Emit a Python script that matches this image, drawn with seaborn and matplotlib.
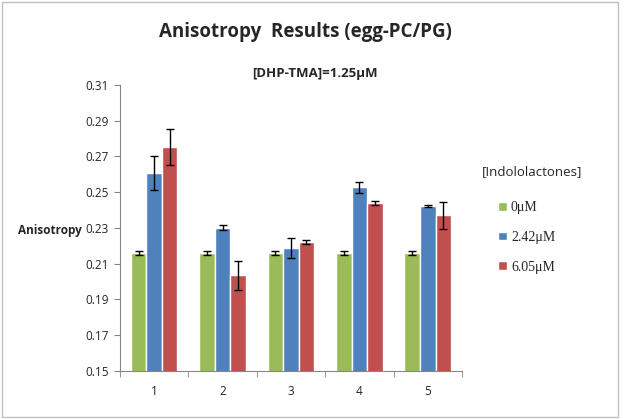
import numpy as np
import pandas as pd
import seaborn as sns
import matplotlib.pyplot as plt
from matplotlib.patches import Rectangle

# data
groups = ["1", "2", "3", "4", "5"]
concs = ["0\u03bcM", "2.42\u03bcM", "6.05\u03bcM"]
vals_0 = [0.2161, 0.2161, 0.2161, 0.2161, 0.2161]
vals_242 = [0.2607, 0.2301, 0.2189, 0.2527, 0.2422]
vals_605 = [0.2753, 0.2036, 0.2221, 0.2441, 0.2370]
err_0 = [0.0013, 0.0013, 0.0013, 0.0013, 0.0013]
err_242 = [0.0095, 0.0015, 0.0055, 0.0030, 0.0007]
err_605 = [0.0100, 0.0082, 0.0010, 0.0010, 0.0075]

colors = ["#9BBB59", "#4F81BD", "#C0504D"]

df = pd.DataFrame({
    "group": groups * 3,
    "conc": [c for c in concs for _ in groups],
    "value": vals_0 + vals_242 + vals_605,
    "err": err_0 + err_242 + err_605,
})

sns.set_style("white")
plt.rcParams["font.family"] = ["Open Sans", "DejaVu Sans"]

fig = plt.figure(figsize=(6.24, 4.19), dpi=100)
ax = fig.add_axes([0.1923, 0.1146, 0.548, 0.6826])

sns.barplot(data=df, x="group", y="value", hue="conc", palette=colors,
            width=0.68, errorbar=None, ax=ax, saturation=1, legend=True)

# error bars on each bar
for cont, c in zip(ax.containers, concs):
    sub = df[df["conc"] == c]
    xs = [p.get_x() + p.get_width() / 2 for p in cont.patches]
    ax.errorbar(xs, sub["value"], yerr=sub["err"], fmt="none",
                ecolor="black", elinewidth=1, capsize=3, capthick=1)

ax.set_ylim(0.15, 0.31)
ax.set_yticks(np.arange(0.15, 0.311, 0.02))
ax.set_yticklabels([f"{v:.2f}" for v in np.arange(0.15, 0.311, 0.02)], fontsize=8.5)
ax.set_xlim(-0.5, 4.5)
ax.set_xticks(range(5))
ax.set_xticklabels(groups, fontsize=8.5)
ax.set_xticks(np.arange(-0.5, 4.6, 1), minor=True)
ax.tick_params(axis="x", which="major", length=0, pad=10)
ax.tick_params(axis="x", which="minor", length=4, direction="out", color="#868686", bottom=True)
ax.tick_params(axis="y", length=4, direction="out", color="#868686", left=True, pad=4)
ax.set_xlabel("")
ax.set_ylabel("")
for s in ["top", "right"]:
    ax.spines[s].set_visible(False)
for s in ["left", "bottom"]:
    ax.spines[s].set_color("#868686")
    ax.spines[s].set_linewidth(0.8)

# legend
handles, labels = ax.get_legend_handles_labels()
ax.legend(handles, labels, loc="upper left", bbox_to_anchor=(1.07, 0.637),
          frameon=False, handlelength=0.6, handleheight=0.6, handletextpad=0.3,
          labelspacing=1.2, prop={"family": "Liberation Serif", "size": 10})
fig.text(0.772, 1 - 172 / 419, "[Indololactones]", fontsize=9.5, va="center", ha="left")

fig.text(0.49, 1 - 32 / 419, "Anisotropy  Results (egg-PC/PG)", fontsize=13.5,
         fontweight="bold", ha="center", va="center")
fig.text(0.505, 1 - 73 / 419, "[DHP-TMA]=1.25\u03bcM", fontsize=9.5,
         fontweight="bold", ha="center", va="center")
fig.text(0.029, 1 - 230 / 419, "Anisotropy", fontsize=8.5, fontweight="bold",
         ha="left", va="center")

fig.patches.append(Rectangle((0.003, 0.005), 0.988, 0.99, transform=fig.transFigure,
                             fill=False, edgecolor="#BFBFBF", linewidth=1))

fig.savefig("out.png", dpi=100)
